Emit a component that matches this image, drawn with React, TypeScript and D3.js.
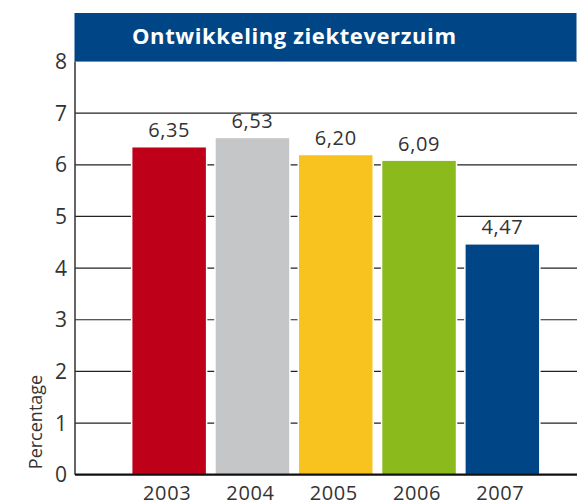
import { useRef, useEffect } from 'react';
import * as d3 from "d3";

const years = ["2003", "2004", "2005", "2006", "2007"];
const values = [6.35, 6.53, 6.20, 6.09, 4.47];
const barColors = ["#BF0019", "#C5C6C8", "#F9C31F", "#8BBA1C", "#004687"];
const yTicks = [0, 1, 2, 3, 4, 5, 6, 7, 8];

const W = 577, H = 504;
const FONT = "'Open Sans', 'Noto Sans', sans-serif";

const App = () => {
  const ref = useRef<SVGSVGElement>(null);

  useEffect(() => {
    const svg = d3.select(ref.current);
    svg.selectAll("*").remove();

    const left = 75;
    const y = d3.scaleLinear().domain([0, 8]).range([474.7, 61.5]);
    const x = d3.scaleBand().domain(years).range([127.5, 544]).paddingInner(0.1).paddingOuter(0.05);

    // title banner
    svg.append("rect").attr("x", left - 0.5).attr("y", 13).attr("width", W - left).attr("height", 48.5).attr("fill", "#004687");
    svg.append("line").attr("x1", left).attr("x2", W).attr("y1", 61.5).attr("y2", 61.5).attr("stroke", "#8a8a8a").attr("stroke-width", 1);
    svg.append("text").attr("x", 132).attr("y", 43.5).attr("fill", "#fff")
      .attr("textLength", 324).attr("lengthAdjust", "spacing")
      .style("font-family", FONT).style("font-weight", "bold").style("font-size", "22px")
      .text("Ontwikkeling ziekteverzuim");

    // gridlines
    svg.append("g").selectAll("line").data(yTicks.filter(d => d > 0 && d < 8)).enter().append("line")
      .attr("x1", left).attr("x2", W).attr("y1", d => y(d)).attr("y2", d => y(d))
      .attr("stroke", "#222").attr("stroke-width", 1.2);

    // y tick labels
    svg.append("g").selectAll("text").data(yTicks).enter().append("text")
      .attr("x", 67).attr("y", d => y(d) + 7.5).attr("text-anchor", "end")
      .attr("fill", "#333").style("font-family", FONT).style("font-size", "21px")
      .text(d => d);

    // bars
    svg.append("g").selectAll("rect").data(values).enter().append("rect")
      .attr("x", (d, i) => x(years[i]) as number).attr("width", x.bandwidth())
      .attr("y", d => y(d)).attr("height", d => y(0) - y(d))
      .attr("fill", (d, i) => barColors[i]).attr("stroke", "#fff").attr("stroke-width", 1.5);

    // value labels
    svg.append("g").selectAll("text").data(values).enter().append("text")
      .attr("x", (d, i) => (x(years[i]) as number) + x.bandwidth() / 2).attr("y", d => y(d) - 9.5)
      .attr("text-anchor", "middle").attr("fill", "#333")
      .style("font-family", FONT).style("font-size", "20px").style("letter-spacing", "0.6px")
      .text(d => d.toFixed(2).replace(".", ","));

    // axes lines
    svg.append("line").attr("x1", left).attr("x2", left).attr("y1", 61.5).attr("y2", y(0))
      .attr("stroke", "#333").attr("stroke-width", 1.5);
    svg.append("line").attr("x1", left).attr("x2", W).attr("y1", y(0)).attr("y2", y(0))
      .attr("stroke", "#111").attr("stroke-width", 2.2);

    // category labels
    svg.append("g").selectAll("text").data(years).enter().append("text")
      .attr("x", d => (x(d) as number) + x.bandwidth() / 2 - 2).attr("y", 500)
      .attr("text-anchor", "middle").attr("fill", "#333")
      .style("font-family", FONT).style("font-size", "20px").style("letter-spacing", "0.6px")
      .text(d => d);

    // y axis title
    svg.append("text").attr("transform", "translate(42, 422) rotate(-90)")
      .attr("text-anchor", "middle").attr("fill", "#333")
      .style("font-family", FONT).style("font-size", "18px")
      .text("Percentage");
  }, []);

  return <svg ref={ref} width={W} height={H} style={{ position: "absolute", left: 0, top: 0, background: "#fff" }} />;
};

export default App;
